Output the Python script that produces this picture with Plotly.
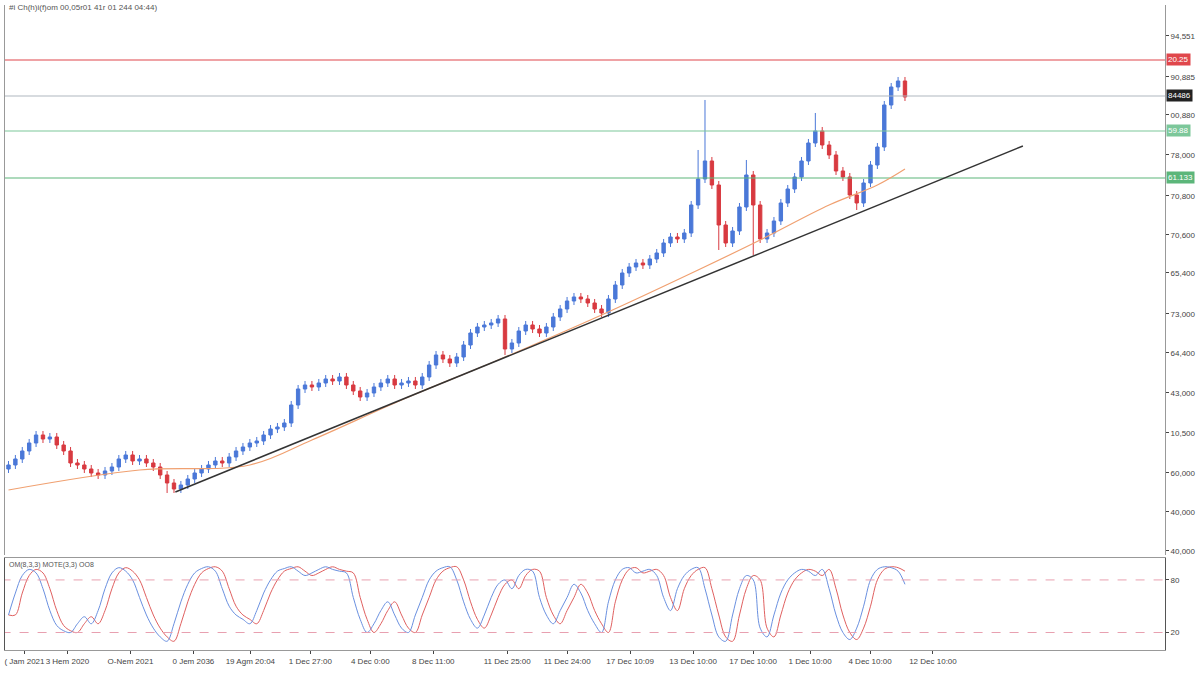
import plotly.graph_objects as go

closes = [90,96,104,112,120,116,118,110,104,92,90,86,82,80,84,88,96,100,94,96,
          92,88,80,72,66,70,76,82,86,90,94,92,98,104,108,112,114,120,126,128,
          132,150,166,170,168,172,176,174,178,170,164,158,162,168,172,176,170,172,174,170,
          178,190,200,196,192,198,210,222,228,230,232,236,206,212,224,230,226,222,228,238,
          246,254,258,256,252,246,242,256,270,282,288,292,290,296,302,312,318,316,322,350,
          376,394,370,330,312,324,348,380,350,316,322,334,352,366,378,394,412,424,410,400,
          384,378,360,352,372,390,408,450,468,474,458]
opens = [86] + closes[:-1]
spike_high = {101: 455, 117: 442, 72: 240, 100: 405, 107: 395}
spike_low = {103: 305, 108: 300, 72: 200, 23: 62, 123: 345}

ma_idx = [0, 19, 35, 44, 57, 71, 86, 100, 109, 119, 126, 130]
ma_val = [65, 85, 90, 115, 155, 195, 240, 285, 315, 350, 370, 386]

trend_idx = [24.2, 147.1]
trend_val = [63, 409]

hlines = [(495, "#e0474c", "20.25"), (459, "#b0b8c0", "84486"), (424, "#7cc79a", "59.88"), (377, "#5cb67a", "61.133")]

stoch = [40,65,85,92, 88,70,45,28,22,20, 30,38,30,45,70,88,94, 90,80,60,40,25,15,10,
         30,55,75,88,93,95, 90,70,50,40,35,30, 45,65,80,90,93,95, 90,85,88,92,95,92,90,88,
         60,35,20, 30,45,55,40,25,20, 40,60,80,90,94,95, 80,55,35,25, 40,60,75,80,70,85,92,90,
         60,40,30, 45,60,75,65,45,30,20, 55,80,92, 94,88,90,92,85,60,45, 70,85,92,94,
         70,40,15,10, 40,70,85,80, 25,15, 40,65,80,88,92,90, 85,92,70,40,20,12,
         25,50,80,92, 95,94,90,75]
signal = [stoch[0]] + stoch[:-1]

ytick_vals = [519,478,440,400,359,320,282,241,202,162,122,82,43,4]
ytick_text = ["94,551","90,885","00,880","78,000","70,800","70,600","65,400","73,000",
              "64,400","43,000","10,500","60,000","40,000","40,000"]
xtick_px = [24,67,130,193,250,310,370,433,507,567,630,693,753,810,870,933]
xtick_text = ["( Jam 2021","3 Hem 2020","O-Nem 2021","0 Jem 2036","19 Agm 20:04","1 Dec 27:00",
              "4 Dec 0:00","8 Dec 11:00","11 Dec 25:00","11 Dec 24:00","17 Dec 10:09","13 Dec 10:00",
              "17 Dec 10:00","1 Dec 10:00","4 Dec 10:00","12 Dec 10:00"]

n = len(closes)
idx = list(range(n))
highs = [spike_high.get(i, max(o, c) + 4) for i, (o, c) in enumerate(zip(opens, closes))]
lows = [spike_low.get(i, min(o, c) - 4) for i, (o, c) in enumerate(zip(opens, closes))]

fig = go.Figure()
for val, col, _ in hlines:
    fig.add_trace(go.Scatter(x=[-1, 170], y=[val, val], mode="lines", line=dict(color=col, width=1.2),
                             hoverinfo="skip", showlegend=False))
fig.add_trace(go.Scatter(x=ma_idx, y=ma_val, mode="lines", line=dict(color="#f0a070", width=1.2, shape="spline"),
                         showlegend=False))
fig.add_trace(go.Scatter(x=trend_idx, y=trend_val, mode="lines", line=dict(color="#333333", width=1.5),
                         showlegend=False))
fig.add_trace(go.Candlestick(x=idx, open=opens, high=highs, low=lows, close=closes,
                             increasing=dict(line=dict(color="#4a78d8", width=1), fillcolor="#4a78d8"),
                             decreasing=dict(line=dict(color="#d83a40", width=1), fillcolor="#d83a40"),
                             whiskerwidth=0, showlegend=False))
fig.add_trace(go.Scatter(x=idx, y=signal, yaxis="y2", mode="lines", line=dict(color="#e06060", width=1, shape="spline"),
                         showlegend=False))
fig.add_trace(go.Scatter(x=idx, y=stoch, yaxis="y2", mode="lines", line=dict(color="#6a90e0", width=1, shape="spline"),
                         showlegend=False))
for v in [80, 20]:
    fig.add_trace(go.Scatter(x=[-1, 170], y=[v, v], yaxis="y2", mode="lines",
                             line=dict(color="#e8a0b0", width=1, dash="dash"), showlegend=False))

xt = [(p - 8) / 6.9 for p in xtick_px]
fnt = "Liberation Sans"
fig.update_layout(
    width=1200, height=675, margin=dict(l=0, r=0, t=0, b=0),
    paper_bgcolor="white", plot_bgcolor="white",
    font=dict(family=fnt, size=8, color="#444"),
    xaxis=dict(domain=[0.0042, 0.9708], range=[-0.5, 167.7], rangeslider=dict(visible=False),
               showgrid=False, zeroline=False, anchor="y2", tickvals=xt, ticktext=xtick_text,
               tickangle=0, automargin=False,
               ticks="outside", ticklen=3, tickfont=dict(size=8), showline=True, linecolor="#999", mirror=True),
    yaxis=dict(domain=[0.1778, 0.9926], range=[0, 550], side="right", showgrid=False, zeroline=False,
               tickvals=ytick_vals, ticktext=ytick_text, ticks="outside", ticklen=3, tickfont=dict(size=8),
               automargin=False, showline=True, linecolor="#999", mirror=True, anchor="x"),
    yaxis2=dict(domain=[0.037, 0.1733], range=[0, 105], side="right", showgrid=False, zeroline=False,
                tickvals=[80, 20], ticktext=["80", "20"], ticks="outside", ticklen=3, tickfont=dict(size=8),
                automargin=False, showline=True, linecolor="#555", mirror=True, anchor="x"),
)
for val, col, txt in hlines:
    fig.add_annotation(xref="paper", yref="y", x=0.9715, y=val, xanchor="left", text=txt, showarrow=False,
                       font=dict(size=8, color="white", family=fnt), bgcolor="#222" if txt == "84486" else col, borderpad=1)
fig.add_annotation(xref="paper", yref="paper", x=0.006, y=0.999, xanchor="left", yanchor="top",
                   text="#i Ch(h)i(f)om 00,05r01 41r 01 244 04:44)", showarrow=False, font=dict(size=8, color="#555"))
fig.add_annotation(xref="paper", yref="paper", x=0.006, y=0.172, xanchor="left", yanchor="top",
                   text="OM(8,3,3) MOTE(3,3) OO8", showarrow=False, font=dict(size=7, color="#555"))
fig.write_html("out.html", config={"displayModeBar": False},
               post_script="document.body.style.margin='0';document.body.style.overflow='hidden';")
